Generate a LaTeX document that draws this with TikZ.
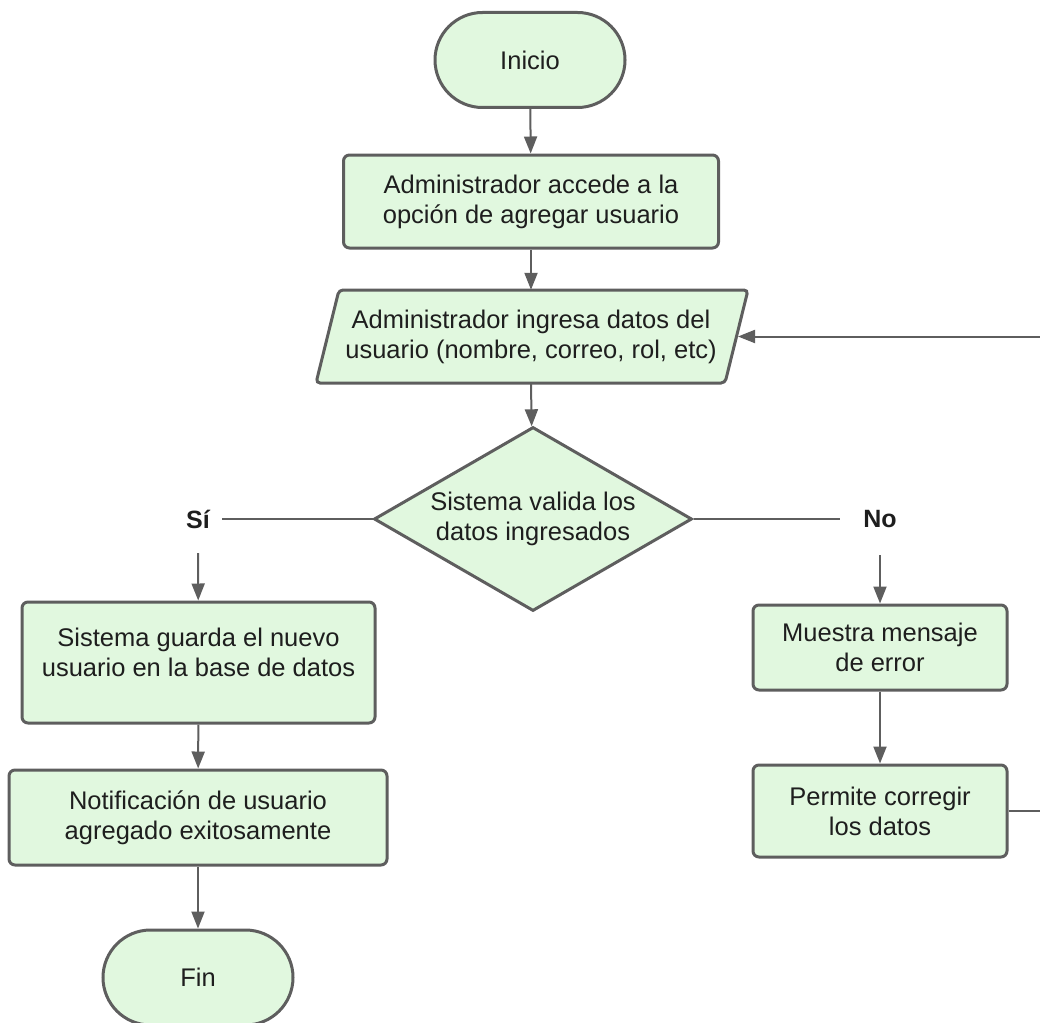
\documentclass[tikz,border=0pt]{standalone}
\usepackage{fontspec}
\setmainfont{Liberation Sans}
\usetikzlibrary{shapes.geometric,shapes.misc,arrows.meta}
\definecolor{boxfill}{HTML}{E1F8DF}
\definecolor{edge}{HTML}{5E5E5E}
\definecolor{ink}{HTML}{1E1E1E}
\begin{document}
\begin{tikzpicture}[x=1pt,y=-1pt,
  txt/.style={text=ink, align=center, font=\fontsize{25.5}{30}\selectfont, inner sep=0pt},
  base/.style={txt, draw=edge, line width=3pt, fill=boxfill},
  proc/.style={base, rectangle, rounded corners=6pt},
  term/.style={base, rounded rectangle, minimum width=190pt, minimum height=95pt},
  decis/.style={base, diamond, aspect=1.73, minimum width=318pt, minimum height=184pt},
  conn/.style={draw=edge, line width=2pt, -{Triangle[width=13pt,length=17pt]}},
  plain/.style={draw=edge, line width=2pt},
  lbl/.style={text=ink, font=\fontsize{25}{30}\selectfont\bfseries, inner sep=0pt}
]
\useasboundingbox (0,0) rectangle (1040,1022);

% main column
\node[term] (ini) at (530,60) {Inicio};
\node[proc, minimum width=375pt, minimum height=93pt] (acc) at (531,201.5)
  {Administrador accede a la\\opción de agregar usuario};

% input step (parallelogram)
\draw[draw=edge, line width=3pt, fill=boxfill, rounded corners=4pt]
  (316,383) -- (339,290) -- (748,290) -- (725,383) -- cycle;
\node[txt, minimum width=400pt, minimum height=93pt] (par) at (531,336.5)
  {Administrador ingresa datos del\\usuario (nombre, correo, rol, etc)};
\coordinate (parR) at (738,336.5);

\node[decis] (dia) at (533,519) {Sistema valida los\\datos ingresados};

% branch labels
\node[lbl] (si) at (198,519) {Sí};
\node[lbl] (no) at (880,519) {No};
\coordinate (siend) at (222,519);
\coordinate (noend) at (840,519);
\coordinate (sistart) at (198,553);
\coordinate (nostart) at (880,555);

% yes branch
\node[proc, minimum width=353pt, minimum height=121pt] (guarda) at (198.5,662.5)
  {Sistema guarda el nuevo\\usuario en la base de datos\\[-10pt]};
\node[proc, minimum width=378pt, minimum height=95pt] (notif) at (198,817.5)
  {Notificación de usuario\\agregado exitosamente};
\node[term] (fin) at (198,977.5) {Fin};

% no branch
\node[proc, minimum width=254pt, minimum height=85pt] (mues) at (880,647.5)
  {Muestra mensaje\\de error};
\node[proc, minimum width=254pt, minimum height=92pt] (perm) at (880,811)
  {Permite corregir\\los datos};

% connectors
\draw[conn] (ini) -- (acc);
\draw[conn] (acc) -- (acc |- par.north);
\draw[conn] (acc |- par.south) -- (dia);
\draw[plain] (dia.west) -- (siend);
\draw[plain] (dia.east) -- (noend);
\draw[conn] (sistart) -- (guarda);
\draw[conn] (guarda) -- (notif);
\draw[conn] (notif) -- (fin);
\draw[conn] (nostart) -- (mues);
\draw[conn] (mues) -- (perm);
\draw[conn] (perm.east) -- ++(40,0) |- (parR);
\end{tikzpicture}
\end{document}
